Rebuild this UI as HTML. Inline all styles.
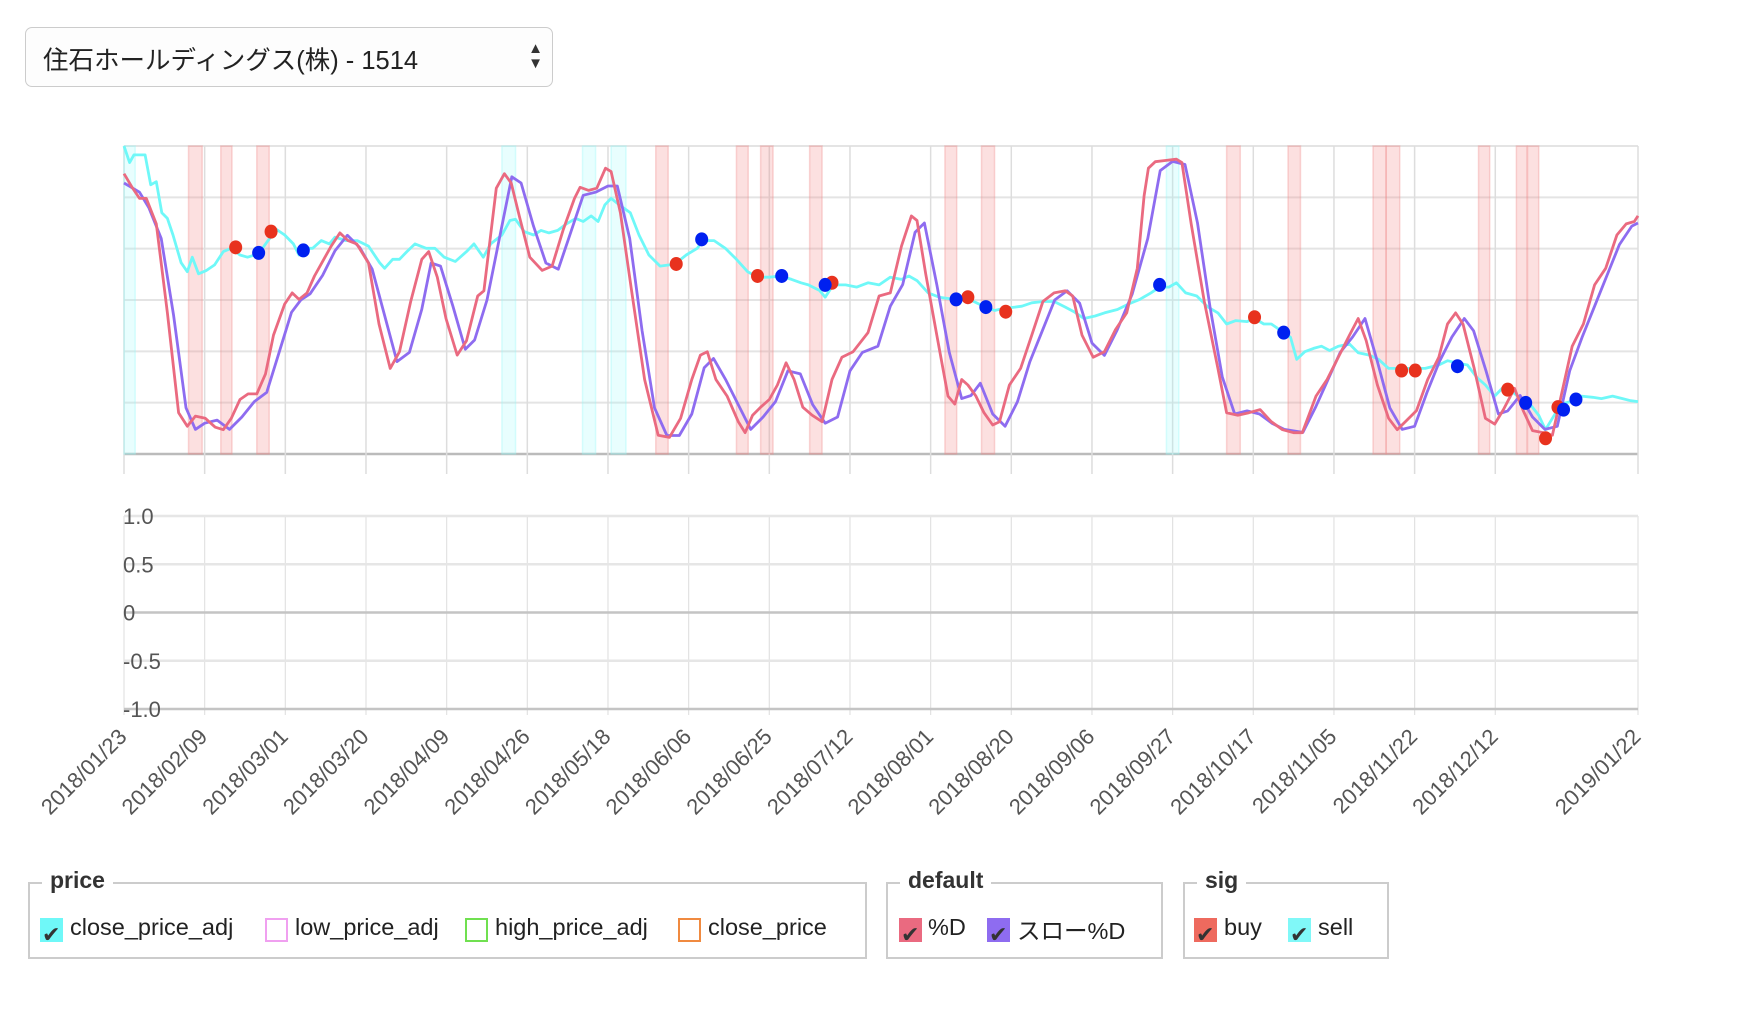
<!DOCTYPE html>
<html><head><meta charset="utf-8">
<style>
body{margin:0;width:1748px;height:1026px;background:#fff;font-family:"Liberation Sans","Noto Sans CJK JP",sans-serif;position:relative;overflow:hidden}
.sel{position:absolute;left:25px;top:27px;width:526px;height:58px;border:1.5px solid #ccc;border-radius:7px;background:#fdfdfd}
.sel span{position:absolute;left:17px;top:12px;font-size:25.5px;color:#222}
.sel .arr{position:absolute;right:9px;top:13px;font-size:15px;line-height:15px;color:#333}
.fs{position:absolute;border:2px solid #ccc}
.fs .t{position:absolute;top:-17px;background:#fff;padding:0 8px;font-weight:bold;font-size:23px;color:#333}
.it{position:absolute;top:30px;font-size:23.5px;color:#222;white-space:nowrap}
.sw{position:absolute;top:34px;width:23px;height:24px;box-sizing:border-box}
.ck{position:absolute;left:2px;top:6px;font-size:22px;color:#333;line-height:22px}
</style></head><body>
<div class="sel"><span>住石ホールディングス(株) - 1514</span><div class="arr">▲<br>▼</div></div>

<svg id="chart" width="1748" height="880" style="position:absolute;left:0;top:0"></svg>

<div class="fs" style="left:28px;top:882px;width:835px;height:73px">
<div class="t" style="left:12px">price</div>
<div class="sw" style="left:10px;background:#6ff8f8"><span class="ck">✔</span></div>
<div class="it" style="left:40px">close_price_adj</div>
<div class="sw" style="left:235px;border:2px solid #f0a0f0"></div>
<div class="it" style="left:265px">low_price_adj</div>
<div class="sw" style="left:435px;border:2px solid #70e050"></div>
<div class="it" style="left:465px">high_price_adj</div>
<div class="sw" style="left:648px;border:2px solid #f08a40"></div>
<div class="it" style="left:678px">close_price</div>
</div>
<div class="fs" style="left:886px;top:882px;width:273px;height:73px">
<div class="t" style="left:12px">default</div>
<div class="sw" style="left:11px;background:#ea6a80"><span class="ck">✔</span></div>
<div class="it" style="left:40px">%D</div>
<div class="sw" style="left:99px;background:#8e6cf0"><span class="ck">✔</span></div>
<div class="it" style="left:129px;top:28px">スロー%D</div>
</div>
<div class="fs" style="left:1183px;top:882px;width:202px;height:73px">
<div class="t" style="left:12px">sig</div>
<div class="sw" style="left:9px;background:#ee6a5e"><span class="ck">✔</span></div>
<div class="it" style="left:39px">buy</div>
<div class="sw" style="left:103px;background:#80f8f8"><span class="ck">✔</span></div>
<div class="it" style="left:133px">sell</div>
</div>

<script>
const tickLabels=["2018/01/23","2018/02/09","2018/03/01","2018/03/20","2018/04/09","2018/04/26","2018/05/18","2018/06/06","2018/06/25","2018/07/12","2018/08/01","2018/08/20","2018/09/06","2018/09/27","2018/10/17","2018/11/05","2018/11/22","2018/12/12","2019/01/22"];
const tickIdx=[0,13,26,39,52,65,78,91,104,117,130,143,156,169,182,195,208,221,244];
const pctD=[[0,91],[1.3,86.6],[2.5,83],[3.6,83],[5.2,74.7],[7,45.8],[8.8,13.4],[10.2,9],[11.5,12.3],[13.1,11.6],[14.7,8.7],[16,7.9],[17.3,11.6],[18.7,17.7],[20,19.5],[21.4,19.5],[22.8,26],[24.1,38.6],[25.9,48.7],[27.1,52.3],[28.2,50.2],[29.5,52.3],[30.7,57.8],[32.2,63.2],[33.4,67.5],[34.8,71.8],[36.1,69.3],[37.5,68.2],[39.4,62],[41.1,42.2],[42.9,27.8],[44.4,33.2],[46.2,49.5],[48,63.2],[49.1,65.7],[50.5,57.4],[51.9,44],[53.7,32.1],[55.2,36.8],[57,51.3],[58,53],[60,86.3],[61.3,91],[62.4,88],[63.8,76.5],[65.4,63.9],[67.4,59.6],[69,61],[70.8,72.9],[72.6,83],[73.5,86.6],[74.9,85.6],[76.2,86.3],[77.6,92.8],[78.5,91.7],[80,78.3],[81.8,53],[83.9,24.2],[86.1,6.1],[87.9,5.4],[89.7,11.6],[91.5,24.2],[92.9,32.1],[94,33.2],[95.4,24.2],[97.2,18.8],[99,10.5],[100.1,6.9],[101.3,12.6],[102.6,15.2],[104,17.7],[105.3,22.4],[106.7,29.6],[108,24.2],[109.4,15.2],[110.9,12.6],[112.5,10.5],[114.1,24.2],[115.7,31.4],[117.5,33.2],[119.9,39.4],[121.7,51.3],[123.5,52.3],[125.3,67.5],[126.9,77.3],[127.8,75.8],[129.2,58.5],[131,38.6],[132.8,18.8],[133.9,16.2],[135,24.2],[136,22.4],[137.3,18.8],[138.6,13.4],[140,9.4],[141.1,10.5],[142.7,22.4],[144.5,27.8],[146.3,38.6],[148.1,49.5],[149.9,52.3],[151.7,53],[152.9,51.3],[154.4,38.6],[156.2,31.4],[158,33.2],[159.8,40.4],[161.6,45.8],[163.3,60.3],[164.4,83.8],[165.1,92.8],[166.2,94.9],[167.8,95.3],[169.6,95.7],[170.5,94.6],[172,74.7],[174.1,49.5],[176.3,27.8],[177.7,13.4],[179.5,12.6],[181.3,13.4],[183.1,14.4],[184.9,10.5],[186.7,7.9],[188.5,6.9],[189.9,6.9],[192.1,18.8],[193.9,24.2],[195.7,31.4],[197.5,38.6],[198.9,44],[200.2,36.8],[202,22.4],[203.8,11.6],[205.2,7.9],[206.5,10.5],[208.3,14.1],[210.1,24.2],[211.9,31.4],[213.3,42.2],[214.6,45.8],[215.8,42.2],[217.6,27.8],[219.4,11.6],[220.9,9.7],[222.3,14.4],[224.1,21.3],[225.5,14.1],[227,7.6],[228.8,6.9],[230.2,6.1],[231.6,18.8],[233.4,35],[235.2,42.2],[237,54.9],[238.8,60.3],[240.6,71.1],[242.1,74.7],[243.4,75.5],[244,77.3]];
const slowD=[[0,88],[2.5,85],[4,80],[6,70],[8,45],[10,15],[11.5,8],[13,10],[15,11],[17,8],[19,12],[21,17],[23,20],[25,33],[27,46],[28.5,50],[30,52],[32,58],[34,66],[36,71],[38,67],[40,60],[42,45],[44,30],[46,33],[48,47],[49.5,62],[51,61],[53,48],[55,34],[56.5,37],[58.5,50],[61,75],[62.5,90],[64,88],[66,74],[68,62],[70,60],[72,72],[74,84],[76,85],[78,87],[79.5,87],[81.5,70],[83.5,40],[85.5,15],[87.5,6],[89.5,6],[91.5,13],[93.5,28],[95,31],[97,24],[99,16],[101,8],[103,12],[105,17],[107,27],[109,26],[111,16],[113,10],[115,12],[117,27],[119,33],[121.5,35],[123.5,48],[125.5,55],[127.5,72],[129,75],[131,55],[133,33],[135,18],[136.5,19],[138,23],[140,13],[142,9],[144,17],[146,30],[148,40],[150,50],[152,53],[154,49],[156,36],[158,32],[160,40],[162.5,52],[165,70],[167,92],[169,95],[171,94],[173,75],[175,48],[177,25],[179,13],[181,14],[183,13],[185,10],[187,8],[190,7],[192,15],[194,24],[196,33],[198,38],[200,44],[202,30],[204,15],[206,8],[208,9],[210,20],[212,30],[214,38],[216,44],[217.5,40],[219.5,27],[221.5,13],[223,14],[225,19],[227,12],[229,8],[231,9],[233,27],[235,38],[237,48],[239,58],[241,68],[243,74],[244,75]];
const closeAdj=[[0,100],[0.9,94.6],[1.6,97.1],[3.4,97.1],[4.3,87.4],[5.2,88.4],[6.1,78.3],[7,76.5],[7.9,71.1],[9.2,62.1],[10.2,59.2],[11,63.9],[12,58.5],[13.3,59.6],[14.6,61.4],[16,65.7],[17.3,66.8],[18.7,64.6],[19.9,63.9],[21.7,65],[23.2,69.3],[24.6,72.9],[25.9,71.1],[27.3,68.2],[28.2,64.6],[29.1,66.8],[30.4,66.8],[31.8,69.3],[33.1,68.2],[34,70.4],[35.8,69.3],[37.6,69.3],[39.4,67.5],[41.2,62.1],[42,60.3],[43.3,63.2],[44.4,63.2],[45.6,65.7],[46.9,68.2],[48.7,66.8],[50.1,66.8],[51.6,63.9],[53.4,62.5],[55.2,65.7],[56.4,68.2],[57.9,63.9],[59.1,68.2],[60.9,71.1],[62.2,75.8],[63.1,76.2],[64.5,72.2],[66,71.1],[67.2,72.6],[68.5,71.8],[69.9,72.6],[71.3,74.7],[72.8,76.5],[74,75.5],[75.3,77.3],[76.4,75.5],[77.5,80.9],[78.5,83],[79.8,80.9],[81.6,78.3],[83,71.1],[84.6,64.6],[86.4,61],[87.9,61.4],[88.8,61.7],[90.6,64.6],[92.4,66.8],[93.3,69.3],[95.1,69.3],[96.9,66.8],[98.7,63.2],[100.5,59.2],[102.2,57.4],[104,57.4],[105.8,57.8],[107.6,56.7],[109.1,55.6],[110.3,54.9],[112.1,53.1],[113,50.9],[114.3,54.9],[116.3,54.9],[118.1,54.2],[119.9,55.6],[121.7,54.9],[123.5,57.4],[125.3,56.7],[126.5,57.8],[127.8,56.3],[129.6,52.3],[131.4,50.9],[133.9,50.2],[135.5,50.9],[137.8,48.7],[138.9,47.7],[140.3,46.6],[141.8,47.3],[143.6,47.7],[144.7,48],[146.3,49.1],[148.1,49.5],[149.9,49.5],[151.7,47.7],[153.1,46.2],[154.7,44],[156.5,44.8],[158,45.8],[160.1,46.9],[161.9,48.7],[163.7,50.2],[165.5,52.3],[166.9,54.2],[168.4,54.2],[169.6,55.6],[171.1,52.3],[172.9,51.3],[174.7,47.7],[176.3,45.8],[177.7,42.2],[179.2,43.3],[181,43],[182.2,44],[183.7,42.2],[184.9,42.2],[186.7,39.7],[188,37.9],[189,30.7],[190.3,33.2],[191.7,34.3],[193,35],[194.3,33.6],[195.7,35],[197.5,35.7],[198.9,32.9],[200.7,32.1],[202.2,30.7],[203.8,27.8],[205,27.8],[206.8,27.8],[208.3,27.8],[209.7,27.8],[211.9,28.9],[213.3,30.3],[214.7,29.6],[216.5,28.9],[218,24.9],[219.4,22.4],[220.9,18.8],[222.1,21.3],[223.9,19.9],[225.3,17.7],[226.6,16.2],[228,12.6],[229.1,7.9],[230.2,11.6],[231.6,16.2],[233.1,17],[234.9,18.8],[236.7,18.4],[238.1,18],[239.9,18.8],[241.5,18],[242.8,17.3],[244,17]];
const buySig=[[18,67.1],[23.7,72.2],[89,61.7],[102.1,57.8],[114.1,55.6],[136,50.9],[142.1,46.2],[182.2,44.4],[205.9,27.1],[208.1,27.1],[223,20.9],[229.1,5.1],[231.1,15.2]];
const sellSig=[[21.7,65.3],[28.9,66.1],[93.1,69.7],[106,57.8],[113,54.9],[134.1,50.2],[138.9,47.7],[166.9,54.9],[186.9,39.4],[214.9,28.5],[225.9,16.6],[232,14.4],[234,17.7]];
const buyBands=[[10.4,12.6],[15.6,17.4],[21.4,23.4],[85.7,87.7],[98.7,100.6],[102.6,104.6],[110.5,112.5],[132.3,134.2],[138.2,140.3],[177.7,179.9],[187.6,189.6],[201.3,203.4],[203.4,205.6],[218.3,220.1],[224.4,226.1],[226.2,228]];
const sellBands=[[0,1.8],[60.9,63.1],[73.9,76],[78.5,80.9],[168,170]];
const lowerTicks=[1.0,0.5,0,-0.5,-1.0];
const lowerTickText=["1.0","0.5","0","-0.5","-1.0"];

const NS="http://www.w3.org/2000/svg";
const svg=document.getElementById('chart');
const X0=124,X1=1638,T0=146,T1=454,B0=516,B1=709,XMAX=244;
const xs=i=>X0+i/XMAX*(X1-X0);
const ys=v=>T1-v/100*(T1-T0);
const yb=v=>B1-(v+1)/2*(B1-B0);
function el(tag,attrs,parent){const e=document.createElementNS(NS,tag);for(const k in attrs)e.setAttribute(k,attrs[k]);(parent||svg).appendChild(e);return e;}

for(let k=0;k<=6;k++){const y=T0+k*(T1-T0)/6;
 const g=el('line',{x1:X0,x2:X1,y1:y,y2:y,stroke:k==6?'#bbb':'#e4e4e4','stroke-width':k==6?2.5:2});
 
 }
tickIdx.forEach((t,i)=>{const x=xs(t);
 const g=el('line',{x1:x,x2:x,y1:T0,y2:T1+20,stroke:'#ddd','stroke-width':1.5});
 
 
 const g2=el('line',{x1:x,x2:x,y1:B0,y2:B1+6,stroke:'#e2e2e2','stroke-width':1.2});
 
 
 const tx=el('text',{x:x+4,y:B1+29,transform:`rotate(-45 ${x+4} ${B1+29})`,'text-anchor':'end','font-size':22,fill:'#555','font-family':'Liberation Sans, sans-serif'});
 tx.textContent=tickLabels[i];
 
 
});
lowerTicks.forEach((v,i)=>{const y=yb(v);
 const dark=(v===0||v===-1);
 const g=el('line',{x1:X0,x2:X1,y1:y,y2:y,stroke:dark?'#c4c4c4':'#e6e6e6','stroke-width':2.5});
 
 
 const tx=el('text',{x:X0-1,y:y+8,'font-size':22,fill:'#555','font-family':'Liberation Sans, sans-serif'});
 tx.textContent=lowerTickText[i];
 
 
});
buyBands.forEach(b=>{const r=el('rect',{x:xs(b[0]),y:T0,width:xs(b[1])-xs(b[0]),height:T1-T0,fill:'rgba(242,130,130,0.25)',stroke:'rgba(240,140,140,0.35)','stroke-width':1.5});
 
 });
sellBands.forEach(b=>{const r=el('rect',{x:xs(b[0]),y:T0,width:xs(b[1])-xs(b[0]),height:T1-T0,fill:'rgba(150,250,250,0.22)',stroke:'rgba(150,250,250,0.35)','stroke-width':1.5});
 
 });
function line(data,color,name){const p=el('path',{d:data.map((d,i)=>(i?'L':'M')+xs(d[0]).toFixed(1)+','+ys(d[1]).toFixed(1)).join(''),fill:'none',stroke:color,'stroke-width':2.8,'stroke-linejoin':'round'});
 
 }
line(closeAdj,'#6ff8f8','close-price-adj-line');
line(slowD,'#8e6cf0','slow-d-line');
line(pctD,'#ea6a80','d-line');
buySig.forEach(d=>{const c=el('ellipse',{cx:xs(d[0]),cy:ys(d[1]),rx:6.5,ry:7,fill:'#e8321e'});
 
 });
sellSig.forEach(d=>{const c=el('ellipse',{cx:xs(d[0]),cy:ys(d[1]),rx:6.5,ry:7,fill:'#0020f0'});
 
 });
</script>
</body></html>
